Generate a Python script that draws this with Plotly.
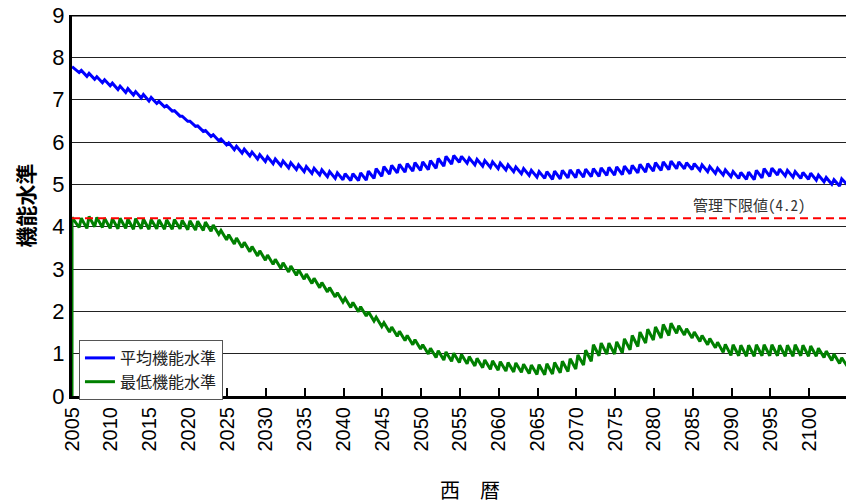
import plotly.graph_objects as go

# Calendar years covered by the simulation (one value pair per year)
years = list(range(2005, 2105))

# Average functional level: value right after each yearly recovery (peak) and at year end (trough)
avg_peak = [
    7.78, 7.69, 7.62, 7.54, 7.47, 7.39, 7.32, 7.26, 7.19, 7.12,
    7.05, 6.96, 6.86, 6.74, 6.61, 6.49, 6.38, 6.27, 6.17, 6.07,
    5.98, 5.90, 5.83, 5.76, 5.70, 5.65, 5.60, 5.55, 5.51, 5.46,
    5.42, 5.38, 5.34, 5.30, 5.27, 5.25, 5.25, 5.27, 5.31, 5.37,
    5.42, 5.45, 5.47, 5.49, 5.51, 5.53, 5.56, 5.61, 5.66, 5.68,
    5.66, 5.62, 5.59, 5.56, 5.53, 5.50, 5.46, 5.41, 5.37, 5.33,
    5.30, 5.30, 5.31, 5.33, 5.34, 5.35, 5.36, 5.37, 5.39, 5.40,
    5.41, 5.43, 5.45, 5.47, 5.49, 5.51, 5.53, 5.55, 5.53, 5.51,
    5.49, 5.46, 5.42, 5.38, 5.34, 5.30, 5.28, 5.29, 5.33, 5.37,
    5.38, 5.36, 5.33, 5.30, 5.28, 5.26, 5.22, 5.16, 5.11, 5.13,
]
avg_trough = [
    7.64, 7.55, 7.48, 7.40, 7.33, 7.24, 7.17, 7.11, 7.04, 6.97,
    6.91, 6.83, 6.73, 6.61, 6.49, 6.37, 6.25, 6.13, 6.03, 5.93,
    5.82, 5.74, 5.67, 5.60, 5.54, 5.49, 5.44, 5.39, 5.35, 5.30,
    5.26, 5.22, 5.18, 5.14, 5.11, 5.09, 5.09, 5.10, 5.14, 5.19,
    5.24, 5.27, 5.29, 5.31, 5.33, 5.35, 5.38, 5.43, 5.48, 5.52,
    5.50, 5.46, 5.43, 5.40, 5.37, 5.34, 5.30, 5.25, 5.21, 5.17,
    5.14, 5.12, 5.13, 5.15, 5.16, 5.17, 5.18, 5.19, 5.21, 5.22,
    5.23, 5.25, 5.27, 5.29, 5.31, 5.33, 5.35, 5.37, 5.37, 5.35,
    5.33, 5.30, 5.26, 5.22, 5.18, 5.14, 5.12, 5.11, 5.15, 5.19,
    5.22, 5.20, 5.17, 5.14, 5.12, 5.10, 5.06, 5.00, 4.96, 4.99,
]

# Minimum functional level (the series starts from 0 at the first year)
min_start = 0.0
min_peak = [
    4.22, 4.20, 4.24, 4.22, 4.20, 4.19, 4.20, 4.18, 4.19, 4.18,
    4.17, 4.16, 4.16, 4.17, 4.15, 4.14, 4.13, 4.11, 4.04, 3.91,
    3.81, 3.73, 3.63, 3.53, 3.43, 3.33, 3.23, 3.15, 3.07, 2.98,
    2.88, 2.78, 2.68, 2.56, 2.44, 2.31, 2.21, 2.11, 1.99, 1.86,
    1.73, 1.63, 1.53, 1.43, 1.33, 1.21, 1.13, 1.07, 1.04, 1.01,
    0.98, 0.93, 0.89, 0.85, 0.83, 0.81, 0.79, 0.78, 0.75, 0.73,
    0.74, 0.76, 0.79, 0.82, 0.88, 0.97, 1.08, 1.21, 1.25, 1.25,
    1.28, 1.35, 1.43, 1.51, 1.58, 1.63, 1.69, 1.72, 1.66, 1.59,
    1.51, 1.43, 1.36, 1.27, 1.22, 1.21, 1.20, 1.20, 1.21, 1.21,
    1.21, 1.20, 1.20, 1.21, 1.20, 1.18, 1.13, 1.06, 0.99, 0.90,
]
min_trough = [
    3.98, 3.96, 4.00, 3.98, 3.96, 3.95, 3.96, 3.94, 3.95, 3.94,
    3.95, 3.94, 3.94, 3.95, 3.93, 3.92, 3.91, 3.89, 3.82, 3.69,
    3.59, 3.51, 3.41, 3.31, 3.21, 3.11, 3.01, 2.93, 2.85, 2.76,
    2.66, 2.56, 2.46, 2.34, 2.22, 2.09, 1.99, 1.89, 1.77, 1.64,
    1.51, 1.41, 1.31, 1.21, 1.11, 0.99, 0.91, 0.85, 0.82, 0.79,
    0.76, 0.71, 0.67, 0.63, 0.61, 0.59, 0.57, 0.56, 0.53, 0.51,
    0.50, 0.52, 0.55, 0.58, 0.64, 0.73, 0.82, 0.95, 0.99, 0.99,
    1.02, 1.09, 1.17, 1.25, 1.32, 1.37, 1.43, 1.48, 1.44, 1.37,
    1.29, 1.21, 1.14, 1.03, 0.96, 0.95, 0.94, 0.94, 0.95, 0.95,
    0.95, 0.94, 0.94, 0.95, 0.94, 0.94, 0.91, 0.84, 0.77, 0.70,
]

threshold = 4.2
threshold_label = "管理下限値(4.2)"
x_ticks = list(range(2005, 2101, 5))
y_ticks = list(range(0, 10))

# Position of recovery and end-of-year points within each year
PEAK_OFS, TROUGH_OFS = 0.2, 0.92


def sawtooth(peaks, troughs, first_at_start=False):
    xs, ys = [], []
    for i, (yr, p, t) in enumerate(zip(years, peaks, troughs)):
        xs += [yr + (0 if (first_at_start and i == 0) else PEAK_OFS), yr + TROUGH_OFS]
        ys += [p, t]
    return xs, ys


ax, ay = sawtooth(avg_peak, avg_trough, first_at_start=True)
mx, my = sawtooth(min_peak, min_trough, first_at_start=True)
mx = [years[0]] + mx
my = [min_start] + my

FONT_NUM = "Liberation Sans, Arial, sans-serif"
FONT_JP = "Noto Sans CJK JP, sans-serif"
FONT_MONO_JP = "Noto Sans Mono CJK JP, Noto Sans CJK JP, monospace"

fig = go.Figure()
fig.add_trace(go.Scatter(x=ax, y=ay, mode="lines", name="平均機能水準",
                         line=dict(color="#0000ff", width=3)))
fig.add_trace(go.Scatter(x=mx, y=my, mode="lines", name="最低機能水準",
                         line=dict(color="#008000", width=3)))

# Management lower limit
fig.add_shape(type="line", xref="paper", x0=0, x1=1, yref="y", y0=threshold, y1=threshold,
              line=dict(color="#ff0000", width=2, dash="8px,5px"), layer="above")
fig.add_annotation(x=(808 - 72) / 774, xref="paper", y=threshold, yref="y", yanchor="bottom",
                   xanchor="right", text=threshold_label, showarrow=False, yshift=1,
                   font=dict(family=FONT_MONO_JP, size=15, color="#333333"))

# Top frame line
fig.add_shape(type="line", xref="paper", x0=0, x1=1, yref="y", y0=9, y1=9,
              line=dict(color="#000000", width=3), layer="above")

fig.update_layout(
    width=846, height=504,
    margin=dict(l=72, r=0, t=15, b=108),
    plot_bgcolor="#ffffff", paper_bgcolor="#ffffff",
    showlegend=True,
    legend=dict(x=0.009, y=0.147, xanchor="left", yanchor="top",
                bgcolor="#ffffff", bordercolor="#555555", borderwidth=1,
                font=dict(family=FONT_JP, size=16, color="#222222"),
                tracegroupgap=0, itemwidth=30),
    xaxis=dict(range=[2005, 2104.75], tickmode="array", tickvals=x_ticks,
               ticktext=[str(v) for v in x_ticks], tickangle=-90,
               ticks="inside", ticklen=8, tickwidth=1.5, tickcolor="#000000",
               showgrid=False, zeroline=False, showline=True, linecolor="#000000",
               linewidth=3, layer="below traces",
               tickfont=dict(family=FONT_NUM, size=20, color="#000000")),
    yaxis=dict(range=[0, 9], tickmode="array", tickvals=y_ticks,
               ticktext=[str(v) for v in y_ticks], ticks="",
               showgrid=True, gridcolor="#222222", gridwidth=1.2,
               zeroline=False, showline=True, linecolor="#000000", linewidth=3,
               layer="below traces",
               tickfont=dict(family=FONT_NUM, size=22, color="#000000"),
               title=dict(text="<b>機能水準</b>", standoff=12,
                          font=dict(family=FONT_JP, size=21, color="#000000"))),
)

# x-axis caption, placed relative to the plot area
fig.add_annotation(x=(470 - 72) / 774, y=-(492 - 396) / 381, xref="paper", yref="paper",
                   yshift=-14, text="西　暦", showarrow=False,
                   font=dict(family=FONT_JP, size=20, color="#000000"))

fig.write_html("out.html")
